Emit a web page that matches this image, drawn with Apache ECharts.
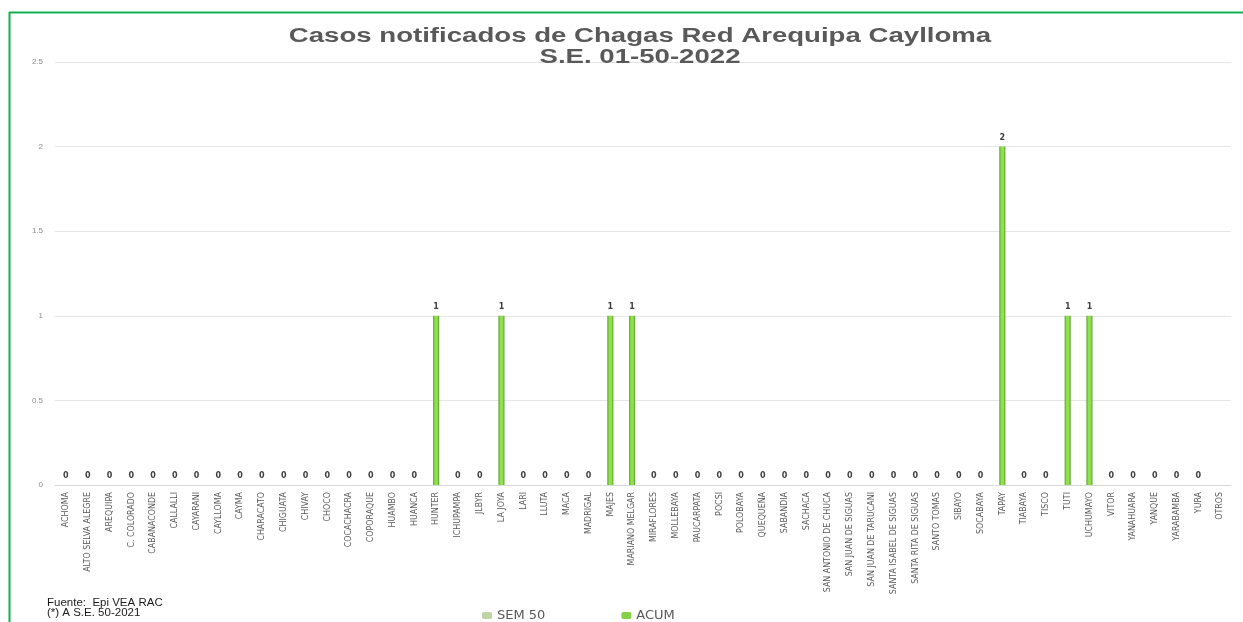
<!DOCTYPE html>
<html>
<head>
<meta charset="utf-8">
<script src="https://cdn.jsdelivr.net/npm/echarts@6/dist/echarts.min.js"></script>
<style>html,body{margin:0;padding:0;background:#fff}#c{width:1243px;height:622px}</style>
</head>
<body>
<div id="c"></div>
<script>
const categories = ["ACHOMA","ALTO SELVA ALEGRE","AREQUIPA","C. COLORADO","CABANACONDE","CALLALLI","CAYARANI","CAYLLOMA","CAYMA","CHARACATO","CHIGUATA","CHIVAY","CHOCO","COCACHACRA","COPORAQUE","HUAMBO","HUANCA","HUNTER","ICHUPAMPA","JLBYR","LA JOYA","LARI","LLUTA","MACA","MADRIGAL","MAJES","MARIANO MELGAR","MIRAFLORES","MOLLEBAYA","PAUCARPATA","POCSI","POLOBAYA","QUEQUEÑA","SABANDIA","SACHACA","SAN ANTONIO DE CHUCA","SAN JUAN DE SIGUAS","SAN JUAN DE TARUCANI","SANTA ISABEL DE SIGUAS","SANTA RITA DE SIGUAS","SANTO TOMAS","SIBAYO","SOCABAYA","TAPAY","TIABAYA","TISCO","TUTI","UCHUMAYO","VITOR","YANAHUARA","YANQUE","YARABAMBA","YURA","OTROS"];
const sem50 = [0,0,0,0,0,0,0,0,0,0,0,0,0,0,0,0,0,0,0,0,0,0,0,0,0,0,0,0,0,0,0,0,0,0,0,0,0,0,0,0,0,0,0,0,0,0,0,0,0,0,0,0,0,null];
const acum = [0,0,0,0,0,0,0,0,0,0,0,0,0,0,0,0,0,1,0,0,1,0,0,0,0,1,1,0,0,0,0,0,0,0,0,0,0,0,0,0,0,0,0,2,0,0,1,1,0,0,0,0,0,null];
const yTicks = {min:0, max:2.5, interval:0.5};
const titleLines = ["Casos notificados de Chagas Red Arequipa Caylloma","S.E. 01-50-2022"];
const footLines = ["Fuente:  Epi VEA RAC","(*) A S.E. 50-2021"];

const chart = echarts.init(document.getElementById('c'), null, {renderer:'canvas'});
const barGrad = new echarts.graphic.LinearGradient(0,0,1,0,[
  {offset:0,color:'#4f9a24'},{offset:0.3,color:'#8fe04c'},{offset:0.7,color:'#8fe04c'},{offset:1,color:'#4f9a24'}
]);
chart.setOption({
  animation:false,
  backgroundColor:'#fff',
  grid:{left:55,right:12,top:62,bottom:137,containLabel:false},
  legend:{
    left:477, top:604, itemWidth:10, itemHeight:7, itemGap:76,
    textStyle:{fontFamily:'DejaVu Sans, Open Sans',fontSize:13,color:'#595959'},
    data:[{name:'SEM 50',itemStyle:{color:'#bfd6a4'}},{name:'ACUM',itemStyle:{color:'#86d045'}}]
  },
  xAxis:{
    type:'category', data:categories,
    axisLine:{lineStyle:{color:'#d9d9d9'}}, axisTick:{show:false},
    axisLabel:{interval:0,rotate:90,fontFamily:'Liberation Sans Narrow, DejaVu Sans Condensed, Arial',fontSize:8.8,color:'#595959',margin:7}
  },
  yAxis:{
    type:'value', min:yTicks.min, max:yTicks.max, interval:yTicks.interval,
    axisLine:{show:false}, axisTick:{show:false},
    splitLine:{lineStyle:{color:'#e6e6e6'}},
    axisLabel:{fontFamily:'Liberation Sans, Arial',fontSize:8,color:'#8c8c8c',margin:12}
  },
  graphic:[
    {type:'line',shape:{x1:9,y1:12.5,x2:1243,y2:12.5},style:{stroke:'#12b050',lineWidth:2}},
    {type:'line',shape:{x1:9.5,y1:12,x2:9.5,y2:622},style:{stroke:'#12b050',lineWidth:2}},
    {type:'text',x:640,y:26,scaleX:1.38,originX:0,z:100,
      style:{text:titleLines.join('\n'),font:'bold 20px Liberation Sans, Arial',fill:'#595959',align:'center',verticalAlign:'top',lineHeight:21}},
    {type:'text',x:47,y:598,scaleX:1.15,style:{text:footLines.join('\n'),font:'10px Liberation Sans, Arial',fill:'#1a1a1a',lineHeight:10,verticalAlign:'top'}}
  ],
  series:[
    {name:'SEM 50',type:'bar',data:sem50,barWidth:6,itemStyle:{color:'#bfd6a4'}},
    {name:'ACUM',type:'bar',data:acum,barWidth:6,barGap:'-100%',
      itemStyle:{color:barGrad},
      label:{show:true,position:'top',distance:5,fontFamily:'DejaVu Sans, Arial',fontSize:8,fontWeight:'bold',color:'#404040'}}
  ]
});
</script>
</body>
</html>
